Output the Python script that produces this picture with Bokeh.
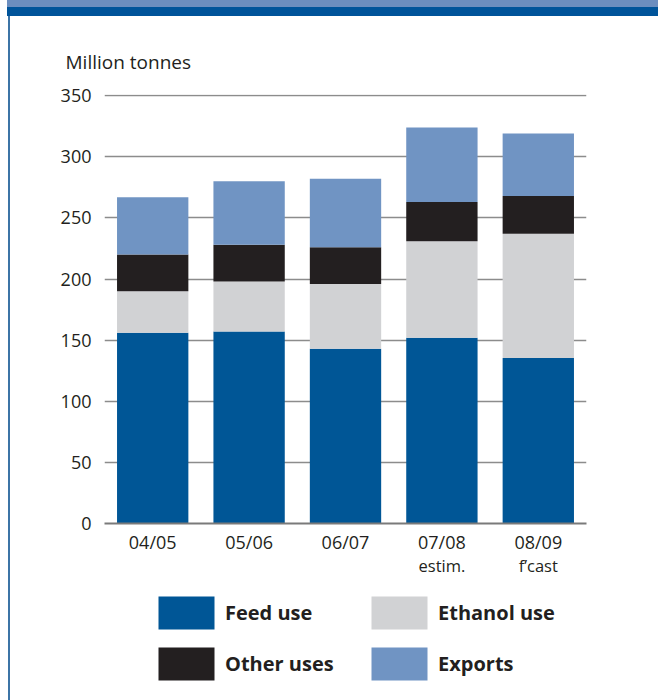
import json
from bokeh.plotting import figure
from bokeh.layouts import column
from bokeh.models import (Range1d, Legend, LegendItem, CategoricalAxis,
                          ColumnDataSource, CustomJSTickFormatter)
from bokeh.embed import file_html
from bokeh.resources import INLINE

# ---- data (million tonnes) ----
seasons = ["04/05", "05/06", "06/07", "07/08", "08/09"]
feed_use = [156, 157, 143, 152, 135.5]
ethanol_use = [34, 41, 53, 79, 101.5]
other_uses = [30, 30, 30, 32, 31]
exports = [47, 52, 56, 61, 51]
sub_labels = {"07/08": "estim.", "08/09": "f\u2019cast"}
series = ["feed", "ethanol", "other", "exports"]
series_names = ["Feed use", "Ethanol use", "Other uses", "Exports"]
colors = ["#005696", "#D1D2D4", "#231F20", "#7094C3"]
y_ticks = [0, 50, 100, 150, 200, 250, 300, 350]

FONT = "Open Sans"
TXT = "#231F20"

src = ColumnDataSource(dict(x=seasons, feed=feed_use, ethanol=ethanol_use,
                            other=other_uses, exports=exports))

p = figure(x_range=seasons, y_range=Range1d(0, 351), width=658, height=590,
           output_backend="svg", toolbar_location=None,
           title="Million tonnes",
           min_border_left=104, min_border_right=72,
           min_border_top=94, min_border_bottom=67)
p.x_range.range_padding = 0
p.outline_line_color = None
p.background_fill_color = "white"
p.border_fill_color = None

# title as unit label
p.title.text_font = FONT
p.title.text_font_size = "19px"
p.title.text_font_style = "normal"
p.title.text_color = TXT
p.title.align = "left"
p.title.offset = -39
p.title.standoff = 39

rs = p.vbar_stack(series, x="x", width=0.74, source=src, color=colors,
                  line_color=None)

# axes
p.yaxis.ticker = y_ticks
p.yaxis.axis_line_color = None
p.yaxis.major_tick_line_color = None
p.yaxis.minor_tick_line_color = None
p.yaxis.major_label_standoff = 7
p.yaxis.major_label_text_font = FONT
p.yaxis.major_label_text_font_size = "18px"
p.yaxis.major_label_text_color = TXT

p.xaxis.axis_line_color = "#7A7A7A"
p.xaxis.axis_line_width = 2
p.xaxis.major_tick_line_color = None
p.xaxis.minor_tick_line_color = None
p.xaxis.major_label_standoff = 0
p.xaxis.major_label_text_font = FONT
p.xaxis.major_label_text_font_size = "18px"
p.xaxis.major_label_text_color = TXT

# second row of category labels (estim. / f'cast)
sub_axis = CategoricalAxis(
    formatter=CustomJSTickFormatter(
        code="const m = %s; return m[tick] || '';" % json.dumps(sub_labels)),
    axis_line_color=None, major_tick_line_color=None,
    minor_tick_line_color=None, major_label_standoff=-9,
    major_label_text_font=FONT, major_label_text_font_size="16.5px",
    major_label_text_color=TXT)
p.add_layout(sub_axis, "below")

p.xgrid.grid_line_color = None
p.ygrid.grid_line_color = "#8C8C8C"
p.ygrid.grid_line_width = 1.5

# legend in its own strip below the chart (zero-size proxies carry colours)
lg = figure(width=658, height=110, output_backend="svg", toolbar_location=None,
            min_border=0, x_range=Range1d(0, 1), y_range=Range1d(0, 1))
lg.axis.visible = False
lg.grid.visible = False
lg.outline_line_color = None
lg.background_fill_color = None
lg.border_fill_color = None
proxies = [lg.vbar(x=[0.5], top=[0], bottom=[0], width=0, color=c,
                   line_color=None) for c in colors]
items = [LegendItem(label=n, renderers=[r])
         for n, r in zip(series_names, proxies)]
order = [items[0], items[2], items[1], items[3]]
legend = Legend(items=order, location=(47, 16), ncols=2,
                glyph_width=70, glyph_height=41, label_standoff=4,
                label_width=129, spacing=10, padding=0, margin=0,
                label_text_font=FONT, label_text_font_size="20px",
                label_text_font_style="bold", label_text_color=TXT,
                background_fill_alpha=0, border_line_alpha=0)
lg.add_layout(legend)

page = column(p, lg, spacing=0)
page.styles = {
    "background-color": "white",
    "background-image": ("linear-gradient(#6C8EBF,#6C8EBF),"
                         "linear-gradient(#00549A,#00549A),"
                         "linear-gradient(#3C74A6,#3C74A6)"),
    "background-size": "651px 7px, 651px 9px, 2px 684px",
    "background-position": "7px 0px, 7px 7px, 8px 16px",
    "background-repeat": "no-repeat",
}

open("out.html", "w").write(file_html(page, INLINE))
